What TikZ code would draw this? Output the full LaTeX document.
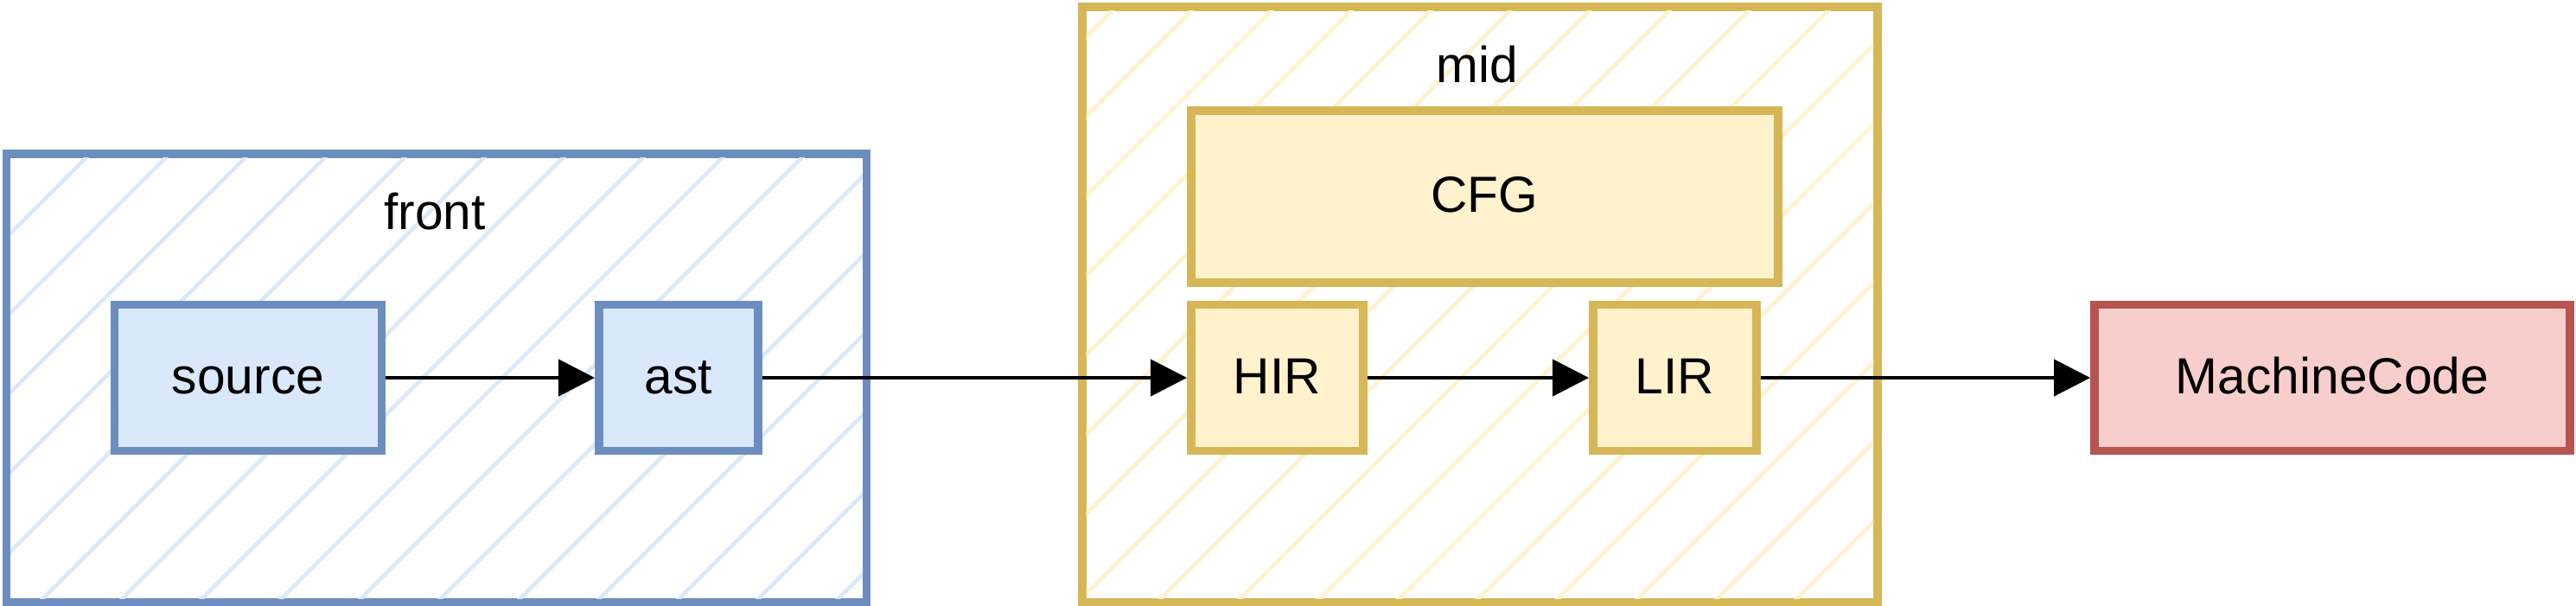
\documentclass[tikz,border=0pt]{standalone}
\usepackage{fontspec}
\setmainfont{Liberation Sans}
\usetikzlibrary{arrows.meta}

\definecolor{blueline}{HTML}{6C8EBF}
\definecolor{bluefill}{HTML}{DAE8FC}
\definecolor{yellowline}{HTML}{D6B656}
\definecolor{yellowfill}{HTML}{FFF2CC}
\definecolor{redline}{HTML}{B85450}
\definecolor{redfill}{HTML}{F8CECC}

\begin{document}
\begin{tikzpicture}[
    font=\fontsize{16.7}{20}\selectfont,
    group/.style={draw, line width=2.6pt, inner sep=0pt},
    stage/.style={draw, line width=2.8pt, minimum height=1.69cm, inner sep=0pt, text height=12pt, text depth=1.6pt},
    hatch/.style={line width=1.3pt},
    flow/.style={line width=1.3pt, -{Triangle[length=4.2mm, width=4.2mm]}}
  ]
  \path[use as bounding box] (0,0) rectangle (29.8,7);

  % the two groups with their hatching
  \node (front) at (5.05,2.625) [group, draw=blueline, minimum width=9.95cm, minimum height=5.19cm] {};
  \node (mid) at (17.12,3.475) [group, draw=yellowline, minimum width=9.2cm, minimum height=6.89cm] {};

  \begin{scope}
    \clip ([shift={(2.6pt,2.6pt)}]front.south west) rectangle ([shift={(-2.6pt,-2.6pt)}]front.north east);
    \foreach \k in {-2,...,16} {
      \draw[hatch, bluefill] ({-4.18+0.92*\k-1},-1) -- ++(9,9);
    }
  \end{scope}
  \begin{scope}
    \clip ([shift={(2.6pt,2.6pt)}]mid.south west) rectangle ([shift={(-2.6pt,-2.6pt)}]mid.north east);
    \foreach \k in {-2,...,17} {
      \draw[hatch, yellowfill] ({6.91+0.92*\k-1},-1) -- ++(9,9);
    }
  \end{scope}

  \node (frontlabel) at (5.03,4.555) {front};
  \node (midlabel) at (17.09,6.255) {mid};

  % stages
  \node (source) at (2.87,2.63) [stage, draw=blueline, fill=bluefill, minimum width=3.09cm] {source};
  \node (ast) at (7.85,2.63) [stage, draw=blueline, fill=bluefill, minimum width=1.84cm] {ast};
  \node (cfg) at (17.175,4.725) [stage, draw=yellowline, fill=yellowfill, minimum width=6.79cm, minimum height=1.99cm] {CFG};
  \node (hir) at (14.775,2.63) [stage, draw=yellowline, fill=yellowfill, minimum width=1.99cm] {HIR};
  \node (lir) at (19.375,2.63) [stage, draw=yellowline, fill=yellowfill, minimum width=1.89cm] {LIR};
  \node (machine) at (26.98,2.63) [stage, draw=redline, fill=redfill, minimum width=5.5cm] {MachineCode};

  \draw[flow] (source) -- (ast);
  \draw[flow] (ast) -- (hir);
  \draw[flow] (hir) -- (lir);
  \draw[flow] (lir) -- (machine);
\end{tikzpicture}
\end{document}
